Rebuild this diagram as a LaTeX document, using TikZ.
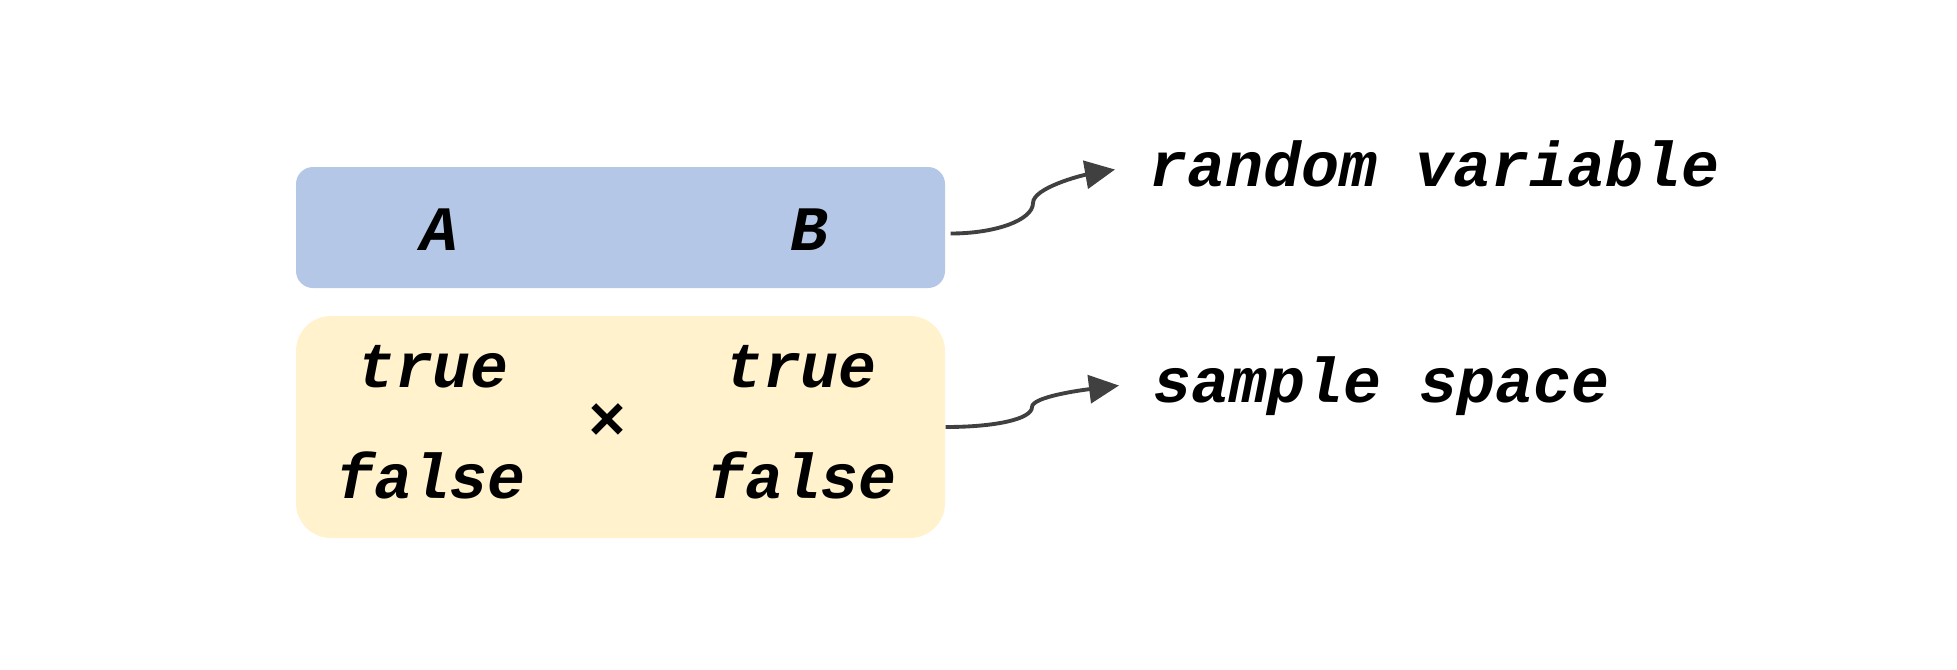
\documentclass[tikz,border=0pt]{standalone}
\usepackage{fontspec}
\setmonofont{Liberation Mono}
\usetikzlibrary{arrows.meta, positioning}
\definecolor{varblue}{HTML}{B4C7E7}
\definecolor{spaceyellow}{HTML}{FFF2CC}
\definecolor{linkgray}{HTML}{404040}

\begin{document}
\begin{tikzpicture}[
    codefont/.style={font=\fontsize{18}{20}\selectfont\ttfamily\bfseries\itshape},
    link/.style={draw=linkgray, line width=1.1pt, -{Triangle[length=0.3cm,width=0.28cm]}},
    sidelabel/.style={codefont, anchor=base west, inner xsep=0.34cm, text height=0.45cm, text depth=0.12cm}
]
    \useasboundingbox (0,0) rectangle (19.57,-6.69);

    % Draw the two boxes
    \node (vars) at (6.205,-2.275) [fill=varblue, rounded corners=0.17cm, inner sep=0, minimum width=6.49cm, minimum height=1.21cm] {};
    \node (space) at (6.205,-4.27) [fill=spaceyellow, rounded corners=0.35cm, inner sep=0, minimum width=6.49cm, minimum height=2.22cm] {};

    % Place the variables and their values
    \node (A) at (4.39,-2.50) [codefont, anchor=base] {A};
    \node (B) at (8.09,-2.50) [codefont, anchor=base] {B};
    \node (trueA) at (4.33,-3.87) [codefont, anchor=base] {true};
    \node (trueB) at (8.01,-3.87) [codefont, anchor=base] {true};
    \node (falseA) at (4.31,-4.98) [codefont, anchor=base] {false};
    \node (falseB) at (8.02,-4.98) [codefont, anchor=base] {false};
    \node (times) at (6.07,-4.22) [font=\fontsize{18}{20}\selectfont\ttfamily\bfseries] {×};

    % Labels on the right
    \node (rv) at (11.15,-1.86) [sidelabel] {random variable};
    \node (ss) at (11.19,-4.02) [sidelabel] {sample space};

    % Draw the arrows
    \draw[link] ([shift={(0.05,-0.06)}]vars.east)
        to[out=0,in=270,out distance=0.45cm,in distance=0.17cm] (10.33,-2.03)
        to[out=90,in=190,out distance=0.15cm,in distance=0.35cm] (rv.west);
    \draw[link] (space.east)
        to[out=0,in=270,out distance=0.5cm,in distance=0.12cm] (10.32,-4.07)
        to[out=90,in=187,out distance=0.1cm,in distance=0.4cm] (ss.west);
\end{tikzpicture}
\end{document}
